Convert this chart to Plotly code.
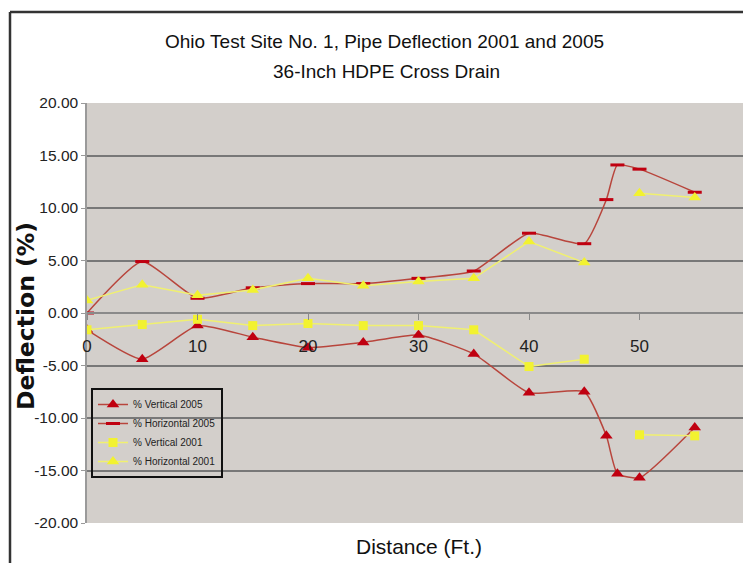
import plotly.graph_objects as go

# distancia (ft) y deflexiones
distancia = [0, 5, 10, 15, 20, 25, 30, 35, 40, 45, 47, 48, 50, 55]
vertical_2005 = [-1.6, -4.4, -1.2, -2.3, -3.3, -2.8, -2.1, -3.9, -7.6, -7.5, -11.7, -15.3, -15.7, -10.9]
horizontal_2005 = [0.0, 4.9, 1.4, 2.4, 2.8, 2.8, 3.3, 4.0, 7.6, 6.6, 10.8, 14.1, 13.7, 11.5]
vertical_2001 = [-1.6, -1.1, -0.6, -1.2, -1.0, -1.2, -1.2, -1.6, -5.1, -4.4, None, None, -11.6, -11.7]
horizontal_2001 = [1.2, 2.7, 1.7, 2.2, 3.3, 2.6, 3.0, 3.3, 6.8, 4.8, None, None, 11.4, 11.0]

y_ticks = [20, 15, 10, 5, 0, -5, -10, -15, -20]
x_ticks = [0, 10, 20, 30, 40, 50, 60]

ROJO = "#c00010"
ROJO_LINEA = "#b8453c"
AMARILLO = "#f2f230"
AMARILLO_LINEA = "#f0f070"
NARROW = "Liberation Sans Narrow, Arial Narrow, Liberation Sans, sans-serif"

# la página añade 8px de margen: el área de trazado va de x=87..750, y=103..523 en pantalla
def px_x(p):
    return (p - 87) / 663

def px_y(p):
    return (523 - p) / 420

fig = go.Figure()

fig.add_trace(go.Scatter(
    x=distancia, y=vertical_2005, name="% Vertical 2005", mode="lines+markers",
    line=dict(color=ROJO_LINEA, width=1.5, shape="spline", smoothing=0.5),
    marker=dict(symbol="triangle-up", size=11, color=ROJO)))
fig.add_trace(go.Scatter(
    x=distancia, y=horizontal_2005, name="% Horizontal 2005", mode="lines+markers",
    line=dict(color=ROJO_LINEA, width=1.5, shape="spline", smoothing=0.5),
    marker=dict(symbol="line-ew", size=10, color=ROJO, line=dict(width=3, color=ROJO))))
fig.add_trace(go.Scatter(
    x=distancia, y=vertical_2001, name="% Vertical 2001", mode="lines+markers",
    connectgaps=False,
    line=dict(color=AMARILLO_LINEA, width=1.5),
    marker=dict(symbol="square", size=9, color=AMARILLO)))
fig.add_trace(go.Scatter(
    x=distancia, y=horizontal_2001, name="% Horizontal 2001", mode="lines+markers",
    connectgaps=False,
    line=dict(color=AMARILLO_LINEA, width=1.5),
    marker=dict(symbol="triangle-up", size=11, color=AMARILLO)))

fig.update_layout(
    width=743, height=555,
    margin=dict(l=79, r=1, t=95, b=40),
    paper_bgcolor="white",
    plot_bgcolor="#d3cfcb",
    showlegend=True,
    legend=dict(
        x=px_x(91), y=px_y(388), xanchor="left", yanchor="top",
        bgcolor="rgba(0,0,0,0)", bordercolor="#111111", borderwidth=2,
        font=dict(family=NARROW, size=10, color="#222222"),
        tracegroupgap=0, itemwidth=30,
    ),
    xaxis=dict(
        range=[0, 60], tickvals=x_ticks, ticktext=[str(v) for v in x_ticks],
        anchor="free", position=0.5, automargin=False,
        showgrid=False, zeroline=False,
        showline=True, linecolor="#8a8a8a", linewidth=1.5,
        ticks="outside", ticklen=6, tickcolor="#8a8a8a",
        ticklabelstandoff=12,
        tickfont=dict(family=NARROW, size=17, color="#222222"),
    ),
    yaxis=dict(
        range=[-20, 20], tickvals=y_ticks, ticktext=["%.2f" % v for v in y_ticks],
        automargin=False,
        showgrid=True, gridcolor="#787878", gridwidth=1.6,
        zeroline=False,
        showline=True, linecolor="#9a9a9a", linewidth=1.5,
        ticks="outside", ticklen=4, tickcolor="#9a9a9a",
        tickfont=dict(family=NARROW, size=15.5, color="#222222"),
    ),
)

# títulos como anotaciones
def texto(t, x, y, size, family=NARROW, angle=0):
    fig.add_annotation(text=t, xref="paper", yref="paper", x=px_x(x), y=px_y(y),
                       xanchor="center", yanchor="middle", textangle=angle,
                       showarrow=False, font=dict(family=family, size=size, color="#111111"))

texto("Ohio Test Site No. 1, Pipe Deflection 2001 and 2005", 384, 41, 19)
texto("36-Inch HDPE Cross Drain", 386, 71, 19)
texto("Distance (Ft.)", 419, 546, 21)
texto("<b>Deflection (%)</b>", 26, 316, 23.5, family="DejaVu Sans, Verdana, sans-serif", angle=-90)

# marco exterior
fig.add_shape(type="line", xref="paper", yref="paper",
              x0=px_x(10), y0=px_y(12), x1=1.05, y1=px_y(12),
              line=dict(color="#333333", width=2.5))
fig.add_shape(type="line", xref="paper", yref="paper",
              x0=px_x(10), y0=px_y(12), x1=px_x(10), y1=-0.2,
              line=dict(color="#333333", width=2.5))

fig.write_html("out.html")
